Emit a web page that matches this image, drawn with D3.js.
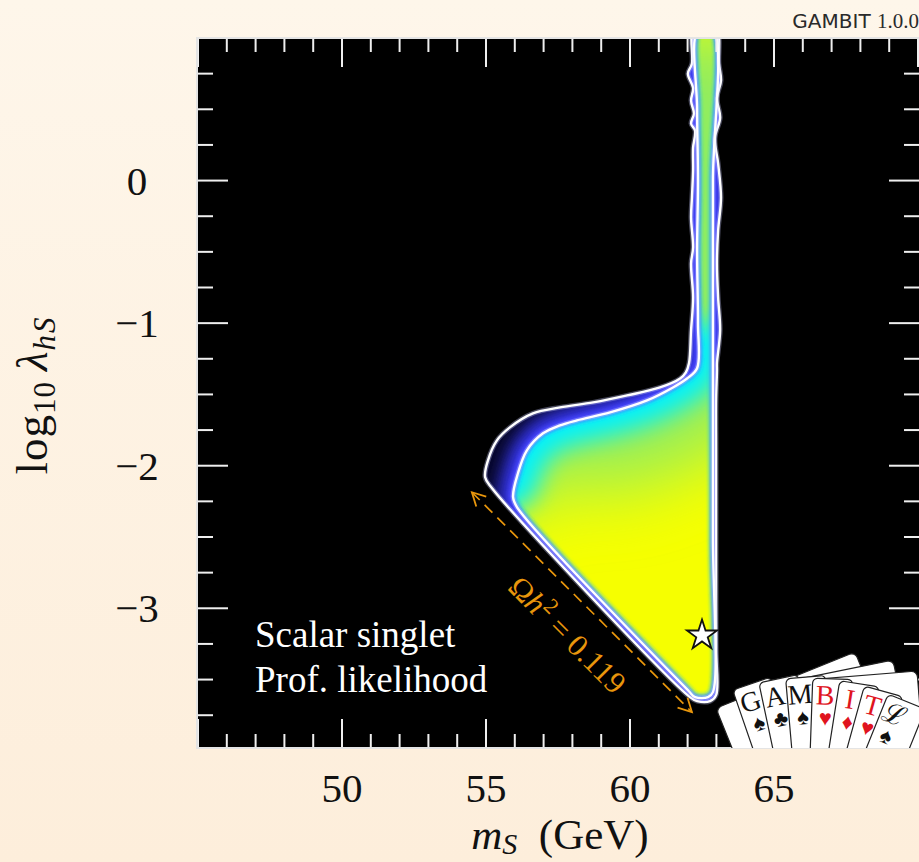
<!DOCTYPE html>
<html>
<head>
<meta charset="utf-8">
<script src="https://cdn.jsdelivr.net/npm/d3@7"></script>
<style>
  html, body { margin: 0; padding: 0; }
  body { width: 919px; height: 862px; overflow: hidden; }
  text { font-family: "Liberation Serif", "DejaVu Serif", serif; }
</style>
</head>
<body>
<svg id="chart" width="919" height="862"></svg>
<script>
// ---- data (mS in GeV, log10 lambda_hS) ----
const xMajor = [50, 55, 60, 65];
const yMajor = [0, -1, -2, -3];
const yTickLabels = ["0", "\u22121", "\u22122", "\u22123"];

// 2 sigma contour (outer)
const outer95 = [
  [62.22, 1.06], [62.15, 0.82], [62.01, 0.75], [62.19, 0.65], [62.12, 0.56], [62.22, 0.47],
  [62.12, 0.40], [62.26, 0.35], [62.19, 0.23], [62.19, 0.07], [62.15, -0.12], [62.12, -0.26],
  [62.19, -0.47], [62.12, -0.58], [62.19, -0.82], [62.12, -1.05], [62.05, -1.28],
  [61.94, -1.345], [61.74, -1.388], [61.04, -1.451], [59.90, -1.507], [58.72, -1.556],
  [57.57, -1.591], [56.63, -1.633], [55.83, -1.731], [55.38, -1.822], [55.07, -1.962],
  [54.97, -2.081], [55.21, -2.158],
  [62.08, -3.623], [62.33, -3.651], [62.78, -3.651], [62.99, -3.609],
  [62.99, -3.29], [62.99, -2.94], [62.99, -2.59], [62.99, -2.24], [62.99, -1.89], [62.99, -1.54],
  [63.02, -1.33], [63.02, -1.28], [63.13, -1.05], [63.06, -0.82], [63.02, -0.58], [63.06, -0.35],
  [63.16, -0.12], [63.06, 0.12], [62.95, 0.30], [63.13, 0.44], [63.02, 0.58], [63.16, 0.70],
  [63.09, 0.82], [62.99, 1.06]
];

// 1 sigma contour (inner)
const inner68 = [
  [62.36, 1.06], [62.33, 0.5], [62.36, 0.0], [62.33, -0.5], [62.36, -1.0], [62.33, -1.317],
  [61.98, -1.388], [61.49, -1.451], [60.59, -1.542], [59.31, -1.626], [58.16, -1.682],
  [57.57, -1.717], [56.98, -1.773], [56.42, -1.892], [56.11, -2.053], [55.94, -2.221],
  [56.08, -2.292],
  [62.01, -3.574], [62.26, -3.623], [62.71, -3.623], [62.88, -3.588],
  [62.88, -2.5], [62.88, -1.0], [62.88, 0.0], [62.88, 1.06]
];

const bestFit = [62.5, -3.19];
const relicArrow = [[54.51, -2.186], [62.15, -3.728]];
const relicLabelPos = [57.57, -3.238];

const cardLetters = ["G", "A", "M", "B", "I", "T", "\u2112"];
const cardSuits = ["\u2660", "\u2663", "\u2660", "\u2665", "\u2666", "\u2665", "\u2660"];
const cardRed = [false, false, false, true, true, true, false];

// ---- layout ----
const W = 919, H = 862;
const plotL = 198, plotT = 38, plotB = 748, plotR = 918;

const svg = d3.select("#chart");
const defs = svg.append("defs");

const x = d3.scaleLinear().domain([45, 70]).range([plotL, plotR]);
const y = d3.scaleLinear().domain([-3.98, 1.0]).range([plotB, plotT]);

const bg = defs.append("linearGradient").attr("id", "bg")
  .attr("x1", 0).attr("y1", 0).attr("x2", 0).attr("y2", 1);
bg.append("stop").attr("offset", 0).attr("stop-color", "#fef6ea");
bg.append("stop").attr("offset", 1).attr("stop-color", "#fdeedb");
svg.append("rect").attr("width", W).attr("height", H).attr("fill", "url(#bg)");

function blur(id, sd) {
  defs.append("filter").attr("id", id)
    .attr("filterUnits", "userSpaceOnUse")
    .attr("x", 0).attr("y", 0).attr("width", W).attr("height", H)
    .append("feGaussianBlur").attr("stdDeviation", sd);
}
blur("b2", 2);
blur("b8", 8);
blur("b12", 12);
blur("b35", 35);

const closed = d3.line().x(d => x(d[0])).y(d => y(d[1])).curve(d3.curveCatmullRomClosed.alpha(0.5));
const open = d3.line().x(d => x(d[0])).y(d => y(d[1])).curve(d3.curveCatmullRom.alpha(0.5));

defs.append("clipPath").attr("id", "plotClip").append("rect")
  .attr("x", plotL).attr("y", plotT).attr("width", W - plotL + 10).attr("height", plotB - plotT);
defs.append("clipPath").attr("id", "outerClip").append("path").attr("d", closed(outer95));
defs.append("clipPath").attr("id", "innerClip").append("path").attr("d", closed(inner68));

const plot = svg.append("g").attr("clip-path", "url(#plotClip)");
plot.append("rect").attr("x", plotL).attr("y", plotT)
  .attr("width", W - plotL + 10).attr("height", plotB - plotT).attr("fill", "#000");

// band between 2 sigma and 1 sigma: black fading into blue
plot.append("path").attr("d", closed(outer95)).attr("fill", "#06062a");
const og = plot.append("g").attr("clip-path", "url(#outerClip)");
og.append("path").attr("d", closed(inner68))
  .attr("fill", "none").attr("stroke", "#3434e8").attr("stroke-width", 30)
  .attr("filter", "url(#b8)");
og.append("path").attr("d", closed(inner68))
  .attr("fill", "none").attr("stroke", "#4a4aff").attr("stroke-width", 8)
  .attr("filter", "url(#b2)");

// 1 sigma region: yellow core, green and cyan towards the upper-left edge
plot.append("path").attr("d", closed(inner68)).attr("fill", "#f6ff00");
const ig = plot.append("g").attr("clip-path", "url(#innerClip)");
ig.append("path").attr("d", open(inner68.slice(0, 17)))
  .attr("fill", "none").attr("stroke", "#8eec62").attr("stroke-width", 150)
  .attr("filter", "url(#b35)");
ig.append("path").attr("d", open(inner68.slice(4, 17)))
  .attr("fill", "none").attr("stroke", "#00f2ff").attr("stroke-width", 44)
  .attr("filter", "url(#b12)");
ig.append("path").attr("d", closed(inner68))
  .attr("fill", "none").attr("stroke", "#22e6ff").attr("stroke-width", 6)
  .attr("filter", "url(#b2)");
ig.append("path").attr("d", closed(inner68))
  .attr("fill", "none").attr("stroke", "#4646ff").attr("stroke-width", 3.5)
  .attr("filter", "url(#b2)");

// contour lines
[outer95, inner68].forEach(c => {
  plot.append("path").attr("d", closed(c))
    .attr("fill", "none").attr("stroke", "#c8ccff").attr("stroke-width", 5).attr("opacity", 0.35);
  plot.append("path").attr("d", closed(c))
    .attr("fill", "none").attr("stroke", "#fff").attr("stroke-width", 2.4);
});

// relic density annotation
const orange = "#e8960c";
const p1 = [x(relicArrow[0][0]), y(relicArrow[0][1])];
const p2 = [x(relicArrow[1][0]), y(relicArrow[1][1])];
const ang = Math.atan2(p2[1] - p1[1], p2[0] - p1[0]);
plot.append("line")
  .attr("x1", p1[0]).attr("y1", p1[1]).attr("x2", p2[0]).attr("y2", p2[1])
  .attr("stroke", orange).attr("stroke-width", 1.7).attr("stroke-dasharray", "11,7");
function head(tip, dir) {
  const a = 0.49, len = 15;
  const pts = [dir + Math.PI - a, dir + Math.PI + a].map(t => [tip[0] + len * Math.cos(t), tip[1] + len * Math.sin(t)]);
  plot.append("path")
    .attr("d", `M${pts[0][0]},${pts[0][1]}L${tip[0]},${tip[1]}L${pts[1][0]},${pts[1][1]}`)
    .attr("fill", "none").attr("stroke", orange).attr("stroke-width", 1.8);
}
head(p1, ang + Math.PI);
head(p2, ang);

const lbl = plot.append("text")
  .attr("transform", `translate(${x(relicLabelPos[0])},${y(relicLabelPos[1])}) rotate(${ang * 180 / Math.PI})`)
  .attr("text-anchor", "middle").attr("fill", orange).attr("font-size", 31);
lbl.append("tspan").text("\u03a9");
lbl.append("tspan").attr("font-style", "italic").text("h");
lbl.append("tspan").attr("font-size", 22).attr("dy", -12).text("2");
lbl.append("tspan").attr("dy", 12).text(" = 0.119");

// best fit point
plot.append("path")
  .attr("d", d3.symbol(d3.symbolStar, 280)())
  .attr("transform", `translate(${x(bestFit[0])},${y(bestFit[1])})`)
  .attr("fill", "#fff").attr("stroke", "#111").attr("stroke-width", 1.8);

// info text
plot.append("text").attr("x", 255).attr("y", 647).attr("fill", "#fff").attr("font-size", 37).text("Scalar singlet");
plot.append("text").attr("x", 255).attr("y", 692).attr("fill", "#fff").attr("font-size", 37).text("Prof. likelihood");

// ticks on all four sides
const tk = svg.append("g").attr("stroke", "#efefef").attr("stroke-width", 2);
d3.range(45, 71).forEach(m => {
  const len = m % 5 === 0 ? 29 : 14;
  tk.append("line").attr("x1", x(m)).attr("x2", x(m)).attr("y1", plotB).attr("y2", plotB - len);
  tk.append("line").attr("x1", x(m)).attr("x2", x(m)).attr("y1", plotT).attr("y2", plotT + len);
});
d3.range(-15, 4).map(k => k * 0.25).forEach(v => {
  const len = Number.isInteger(v) ? 30 : 15;
  tk.append("line").attr("y1", y(v)).attr("y2", y(v)).attr("x1", plotL).attr("x2", plotL + len);
  tk.append("line").attr("y1", y(v)).attr("y2", y(v)).attr("x1", plotR + 1).attr("x2", plotR + 1 - len);
});

// frame
svg.append("path")
  .attr("d", `M${W + 5},${plotT}H${plotL - 1}V${plotB}H${W + 5}`)
  .attr("fill", "none").attr("stroke", "#e4e4e4").attr("stroke-width", 2);

// tick labels
svg.selectAll(".xl").data(xMajor).enter().append("text")
  .attr("x", d => x(d)).attr("y", 802).attr("text-anchor", "middle")
  .attr("font-size", 41).attr("fill", "#111").text(d => d);
svg.selectAll(".yl").data(yMajor).enter().append("text")
  .attr("x", 137).attr("y", d => y(d) + 14).attr("text-anchor", "middle")
  .attr("font-size", 41).attr("fill", "#111").text((d, i) => yTickLabels[i]);

// axis titles
const xt = svg.append("text").attr("x", 560).attr("y", 849).attr("text-anchor", "middle")
  .attr("font-size", 43).attr("fill", "#111");
xt.append("tspan").attr("font-style", "italic").text("m");
xt.append("tspan").attr("font-style", "italic").attr("font-size", 30).attr("dy", 5).text("S");
xt.append("tspan").attr("dy", -5).text("\u2002(GeV)");

const yt = svg.append("text").attr("transform", "translate(47,395) rotate(-90)")
  .attr("text-anchor", "middle").attr("font-size", 45).attr("letter-spacing", 1).attr("fill", "#111");
yt.append("tspan").text("log");
yt.append("tspan").attr("font-size", 31).attr("dy", 8).text("10");
yt.append("tspan").attr("font-style", "italic").attr("dy", -8).text("\u2009\u03bb");
yt.append("tspan").attr("font-style", "italic").attr("font-size", 31).attr("dy", 8).attr("letter-spacing", 2).text("hS");

// version tag
const gt = svg.append("text").attr("x", 919).attr("y", 28).attr("text-anchor", "end").attr("fill", "#2a2a2a");
gt.append("tspan").attr("font-family", "DejaVu Sans").attr("font-size", 20).text("GAMBIT ");
gt.append("tspan").attr("font-size", 21).text("1.0.0");

// GAMBIT card logo
const logo = svg.append("g").attr("clip-path", "url(#plotClip)");
[[855, 652, -22], [893, 660, -11.5], [917, 671, -4.6]].forEach(c => {
  logo.append("rect")
    .attr("transform", `translate(${c[0]},${c[1]}) rotate(${c[2]})`)
    .attr("x", -150).attr("y", 0).attr("width", 150).attr("height", 100).attr("rx", 6)
    .attr("fill", "#fff").attr("stroke", "#222").attr("stroke-width", 1.2);
});
const angles = [-19, -12, -5, 2, 9, 15.5, 22];
const L = 222;
cardLetters.forEach((ch, i) => {
  const g = logo.append("g").attr("transform", `translate(805,900) rotate(${angles[i]})`);
  g.append("rect").attr("x", 0).attr("y", -L).attr("width", 40).attr("height", L).attr("rx", 5)
    .attr("fill", "#fff").attr("stroke", "#222").attr("stroke-width", 1.2);
  const col = cardRed[i] ? "#e0141e" : "#111";
  g.append("text").attr("x", 13).attr("y", -L + 26).attr("text-anchor", "middle")
    .attr("font-size", 28).attr("fill", col).text(ch);
  g.append("text").attr("x", 14).attr("y", -L + 47).attr("text-anchor", "middle")
    .attr("font-family", "DejaVu Sans").attr("font-size", 22).attr("fill", col).text(cardSuits[i]);
});
</script>
</body>
</html>
